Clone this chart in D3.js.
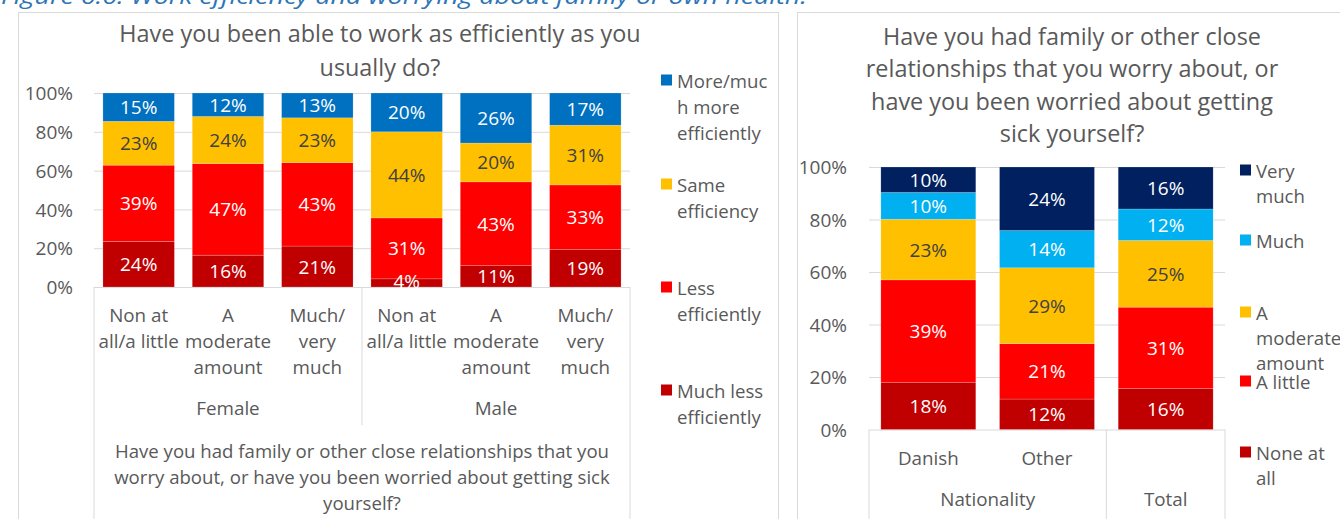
<!DOCTYPE html>
<html><head><meta charset="utf-8">
<script src="https://cdn.jsdelivr.net/npm/d3@7"></script>
<style>
body{margin:0;background:#fff;overflow:hidden;}
svg{display:block;font-family:'Open Sans',Lato,sans-serif;}
</style>
</head><body>
<svg id="c" width="1340" height="519"></svg>
<script>
// ---------- DATA ----------
const caption = "Figure 6.6: Work efficiency and worrying about family or own health.";

const effTitle = ["Have you been able to work as efficiently as you", "usually do?"];
const effCategories = [["Non at","all/a little"],["A","moderate","amount"],["Much/","very","much"],["Non at","all/a little"],["A","moderate","amount"],["Much/","very","much"]];
const effGroups = ["Female","Male"];
const effAxisTitle = ["Have you had family or other close relationships that you","worry about, or have you been worried about getting sick","yourself?"];
const effSeries = ["Much less efficiently","Less efficiently","Same efficiency","More/much more efficiently"];
const effLegendLines = [["More/muc","h more","efficiently"],["Same","efficiency"],["Less","efficiently"],["Much less","efficiently"]];
const effMuchLess = [23.5, 16.4, 21.1, 4.2, 11.0, 19.3];
const effLess     = [39.3, 47.2, 43.0, 31.4, 43.2, 33.3];
const effSame     = [22.6, 24.3, 23.1, 44.4, 20.0, 30.8];
const effMore     = [14.6, 12.1, 12.8, 20.0, 25.8, 16.6];

const worTitle = ["Have you had family or other close","relationships that you worry about, or","have you been worried about getting","sick yourself?"];
const worCategories = [["Danish"],["Other"],[""]];
const worGroups = ["Nationality","Total"];
const worSeries = ["None at all","A little","A moderate amount","Much","Very much"];
const worLegendLines = [["Very","much"],["Much"],["A","moderate","amount"],["A little"],["None at","all"]];
const worNone     = [18.0, 11.6, 15.6];
const worLittle   = [39.0, 21.1, 31.0];
const worModerate = [23.1, 28.9, 25.4];
const worMuch     = [10.2, 14.2, 12.0];
const worVery     = [ 9.7, 24.2, 16.0];

const yTicks = [0, 20, 40, 60, 80, 100];

// ---------- STYLE ----------
const effColors = ["#C00000","#FF0000","#FFC000","#0070C0"];
const effLabelColors = ["#ffffff","#ffffff","#404040","#ffffff"];
const worColors = ["#C00000","#FF0000","#FFC000","#00B0F0","#002060"];
const worLabelColors = ["#ffffff","#ffffff","#404040","#ffffff","#ffffff"];
const gray = "#595959", lineCol = "#d9d9d9";
const FS_TICK = 19, FS_CAT = 18.8, FS_LAB = 19, FS_LEG = 18.6, FS_TITLE = 23.4, FS_AXT = 18.6;

const svg = d3.select("#c");

// caption (top partly cut off)
svg.append("text").attr("x", 1).attr("y", 4)
  .attr("font-style","italic").attr("font-size", 21).attr("fill","#2E75B6")
  .attr("textLength", 806).attr("lengthAdjust","spacingAndGlyphs")
  .text(caption);

// chart frames
svg.append("rect").attr("x",18.5).attr("y",12.5).attr("width",760).attr("height",520)
  .attr("fill","none").attr("stroke",lineCol);
svg.append("rect").attr("x",797.5).attr("y",12.5).attr("width",560).attr("height",520)
  .attr("fill","none").attr("stroke",lineCol);

function drawChart(cfg){
  const g = svg.append("g");
  const n = cfg.series[0].length;
  const x = d3.scaleBand().domain(d3.range(n)).range([cfg.x0, cfg.x1]).paddingInner(0.2).paddingOuter(0.1);
  const y = d3.scaleLinear().domain([0,100]).range([cfg.yb, cfg.yt]);

  // title
  g.append("g").selectAll("text").data(cfg.title).join("text")
    .attr("x", cfg.titleX).attr("y", (d,i)=> cfg.titleY + i*cfg.titleLH)
    .attr("text-anchor","middle").attr("dominant-baseline","central")
    .attr("font-size", FS_TITLE).attr("fill", gray).text(d=>d);

  // gridlines
  const grid = g.append("g").attr("transform",`translate(${cfg.x0},0)`)
    .call(d3.axisLeft(y).tickValues(yTicks).tickSize(-(cfg.x1-cfg.x0)).tickFormat(""));
  grid.select(".domain").remove();
  grid.selectAll("line").attr("stroke", lineCol);

  // y axis labels
  const ya = g.append("g").attr("transform",`translate(${cfg.tickX},0)`)
    .call(d3.axisLeft(y).tickValues(yTicks).tickSize(0).tickPadding(0).tickFormat(d=>d+"%"));
  ya.select(".domain").remove();
  ya.selectAll("text").attr("font-size",FS_TICK).attr("fill",gray).attr("font-family","'Open Sans',Lato,sans-serif").attr("dy","0.35em");

  // stacks
  const rows = d3.range(n).map(i => { const o = {i}; cfg.series.forEach((s,k)=> o[k]=s[i]); return o; });
  const stack = d3.stack().keys(d3.range(cfg.series.length))(rows);
  const bars = g.append("g"), labs = g.append("g");
  stack.forEach((layer,k)=>{
    bars.append("g").selectAll("rect").data(layer).join("rect")
      .attr("x", d=>x(d.data.i)).attr("width", x.bandwidth())
      .attr("y", d=>y(d[1])).attr("height", d=>y(d[0])-y(d[1]))
      .attr("fill", cfg.colors[k]).attr("stroke", "#ffffff").attr("stroke-opacity",0.3).attr("stroke-width",0.6);
    labs.append("g").selectAll("text").data(layer).join("text")
      .attr("x", d=>x(d.data.i)+x.bandwidth()/2)
      .attr("y", d=>(y(d[0])+y(d[1]))/2 + (cfg.labelShift ? cfg.labelShift(k,d.data.i) : 0))
      .attr("text-anchor","middle").attr("dominant-baseline","central")
      .attr("font-size", FS_LAB).attr("fill", cfg.labelColors[k])
      .text(d=>d3.format(".0f")(d[1]-d[0])+"%");
  });

  // category axis box lines
  const ax = g.append("g");
  const step = x.step();
  cfg.vlines.forEach(v=>{
    const xx = cfg.x0 + v.at*step;
    ax.append("line").attr("x1",xx).attr("x2",xx).attr("y1",cfg.yb).attr("y2",v.to).attr("stroke",lineCol);
  });
  // category labels
  d3.range(n).forEach(i=>{
    ax.append("g").selectAll("text").data(cfg.categories[i]).join("text")
      .attr("x", x(i)+x.bandwidth()/2).attr("y",(d,j)=>cfg.catY + j*cfg.catLH)
      .attr("text-anchor","middle").attr("dominant-baseline","central")
      .attr("font-size",FS_CAT).attr("fill",gray).text(d=>d);
  });
  // group labels
  cfg.groups.forEach((gname,gi)=>{
    const [a,b] = cfg.groupSpans[gi];
    ax.append("text").attr("x", cfg.x0 + (a+b)/2*step).attr("y", cfg.groupY)
      .attr("text-anchor","middle").attr("dominant-baseline","central")
      .attr("font-size",FS_CAT).attr("fill",gray).text(gname);
  });

  // legend (top entry = last series)
  const leg = g.append("g");
  const m = cfg.series.length;
  cfg.legendLines.forEach((lines,j)=>{
    const yy = cfg.legendY[j];
    leg.append("rect").attr("x",cfg.legX).attr("y",yy-5.5).attr("width",11).attr("height",11).attr("fill",cfg.colors[m-1-j]);
    leg.append("g").selectAll("text").data(lines).join("text")
      .attr("x",cfg.legX+16).attr("y",(d,t)=>yy + t*cfg.legLH)
      .attr("dominant-baseline","central").attr("font-size",FS_LEG).attr("fill",gray).text(d=>d);
  });
  return {x,y,g};
}

drawChart({
  series:[effMuchLess,effLess,effSame,effMore], colors:effColors, labelColors:effLabelColors,
  x0:94, x1:630, yb:287, yt:93, tickX:73,
  title:effTitle, titleX:380, titleY:33, titleLH:34,
  categories:effCategories, catY:315, catLH:26, groups:effGroups, groupSpans:[[0,3],[3,6]], groupY:408,
  vlines:[{at:0,to:519},{at:3,to:425},{at:6,to:519}],
  legendLines:effLegendLines, legendY:[80,184,287,390], legX:661, legLH:26,
  labelShift:(k,i)=> (k===0 && i===3) ? -2 : 0
});

// axis title for left chart
svg.append("g").selectAll("text").data(effAxisTitle).join("text")
  .attr("x",362).attr("y",(d,i)=>450 + i*26)
  .attr("text-anchor","middle").attr("dominant-baseline","central")
  .attr("font-size",FS_AXT).attr("fill",gray).text(d=>d);

drawChart({
  series:[worNone,worLittle,worModerate,worMuch,worVery], colors:worColors, labelColors:worLabelColors,
  x0:869, x1:1225, yb:429.5, yt:167, tickX:847,
  title:worTitle, titleX:1072, titleY:36, titleLH:32.3,
  categories:worCategories, catY:458, catLH:26, groups:worGroups, groupSpans:[[0,2],[2,3]], groupY:499,
  vlines:[{at:0,to:519},{at:2,to:519},{at:3,to:519}],
  legendLines:worLegendLines, legendY:[170,240,312,381,452], legX:1240, legLH:25
});
</script>
</body></html>
